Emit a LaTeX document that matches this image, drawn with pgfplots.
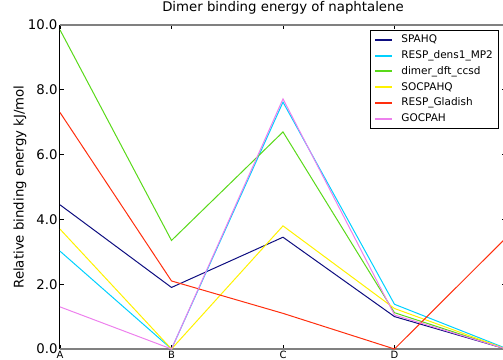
\documentclass[border=0pt]{standalone}
\usepackage{pgfplots}
\pgfplotsset{compat=1.18}
\usepackage{fontspec}
\setmainfont{DejaVu Sans}
\definecolor{cA}{rgb}{0.05,0.05,0.5}
\definecolor{cB}{rgb}{0.0,0.82,1.0}
\definecolor{cC}{rgb}{0.35,0.85,0.1}
\definecolor{cD}{rgb}{1.0,0.95,0.0}
\definecolor{cE}{rgb}{1.0,0.18,0.05}
\definecolor{cF}{rgb}{0.93,0.5,0.93}
\begin{document}
\begin{tikzpicture}
\begin{axis}[
  at={(0,0)}, anchor=south west,
  scale only axis, width=446pt, height=324pt,
  xmin=0, xmax=4, ymin=0, ymax=10,
  xtick={0,1,2,3,4}, xticklabels={A,B,C,D,E},
  ytick={0,2,4,6,8,10},
  /pgf/number format/assume math mode=true,
  yticklabel style={/pgf/number format/fixed, /pgf/number format/fixed zerofill, /pgf/number format/precision=1, font=\fontsize{13.3}{15}\selectfont, xshift=1pt},
  xticklabel style={font=\fontsize{10}{12}\selectfont, yshift=1pt},
  tick align=inside, major tick length=4pt,
  major tick style={black, line width=0.8pt},
  separate axis lines,
  x axis line style={draw=gray, line width=1.3pt},
  y axis line style={draw=black, line width=1pt},
  title={Dimer binding energy of naphtalene},
  title style={font=\fontsize{13.3}{16}\selectfont, at={(axis description cs:0.5,1)}, anchor=south, yshift=1pt},
  ylabel={Relative binding energy kJ/mol},
  ylabel style={font=\fontsize{13.3}{16}\selectfont, at={(axis description cs:-0.0897,0.5)}, anchor=center},
  legend cell align=left,
  legend image code/.code={\draw[#1, line width=2pt] (0pt,0pt) -- (17pt,0pt);},
  legend style={at={(axis description cs:0,1)}, anchor=north west, xshift=310pt, yshift=-5pt,
    draw, line width=0.8pt, inner xsep=4pt, inner ysep=4pt, row sep=5.4pt, column sep=6pt,
    font=\fontsize{10.5}{12}\selectfont,
    nodes={inner ysep=0pt, text height=8pt, text depth=2.5pt, text=black}},
  every axis plot/.append style={line width=1pt},
]
\addplot[color=cA] coordinates {(0,4.45) (1,1.9) (2,3.45) (3,1.0) (4,0.0)};
\addlegendentry{SPAHQ}
\addplot[color=cB] coordinates {(0,3.02) (1,0.0) (2,7.62) (3,1.38) (4,0.02)};
\addlegendentry{RESP\_dens1\_MP2}
\addplot[color=cC] coordinates {(0,9.85) (1,3.35) (2,6.7) (3,1.12) (4,0.0)};
\addlegendentry{dimer\_dft\_ccsd}
\addplot[color=cD] coordinates {(0,3.7) (1,0.0) (2,3.8) (3,1.25) (4,0.0)};
\addlegendentry{SOCPAHQ}
\addplot[color=cE] coordinates {(0,7.3) (1,2.1) (2,1.1) (3,0.0) (4,3.43)};
\addlegendentry{RESP\_Gladish}
\addplot[color=cF] coordinates {(0,1.3) (1,0.0) (2,7.72) (3,1.05) (4,0.0)};
\addlegendentry{GOCPAH}
\end{axis}
\pgfresetboundingbox
\useasboundingbox (-60pt,-10pt) rectangle (443pt,349pt);
\end{tikzpicture}
\end{document}
